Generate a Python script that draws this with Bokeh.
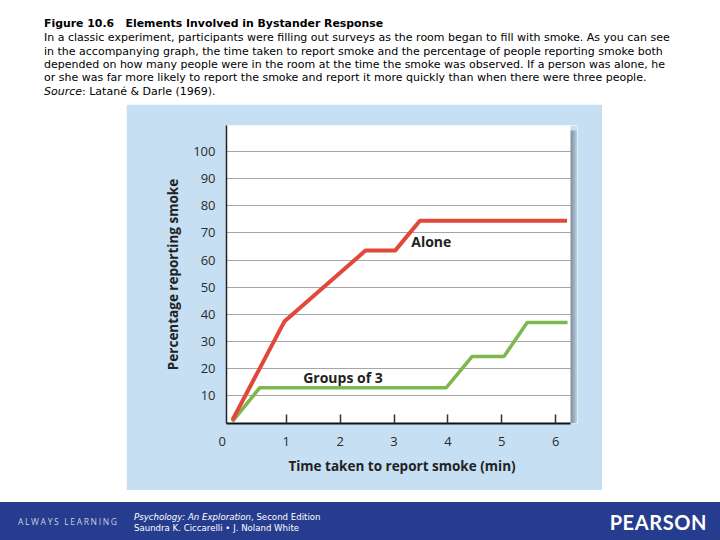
from bokeh.plotting import figure
from bokeh.models import Range1d, FixedTicker, Label, Div, Spacer
from bokeh.layouts import column, row
from bokeh.embed import file_html
from bokeh.resources import INLINE

# ---- data ----
alone_x = [0.0, 0.97, 2.47, 3.02, 3.48, 6.21]
alone_y = [1.0, 37.5, 63.5, 63.5, 74.5, 74.5]
group_x = [0.0, 0.51, 3.97, 4.45, 5.04, 5.47, 6.22]
group_y = [0.5, 13.0, 13.0, 24.5, 24.5, 37.0, 37.0]
x_ticks = [0, 1, 2, 3, 4, 5, 6]
y_ticks = [10, 20, 30, 40, 50, 60, 70, 80, 90, 100]

header_title = "Figure 10.6&nbsp;&nbsp; Elements Involved in Bystander Response"
header_lines = [
    "In a classic experiment, participants were filling out surveys as the room began to fill with smoke. As you can see",
    "in the accompanying graph, the time taken to report smoke and the percentage of people reporting smoke both",
    "depended on how many people were in the room at the time the smoke was observed. If a person was alone, he",
    "or she was far more likely to report the smoke and report it more quickly than when there were three people.",
]
source_line = "<i>Source</i>: Latan\u00e9 &amp; Darle (1969)."

RED = "#e2483a"
GREEN = "#7db84f"
PANEL = "#c6dff2"
FOOT = "#263c8e"
CHART_FONT = "Open Sans"

# layout constants (pixels -> data)
X_START, X_WHITE_END, X_END = -0.108, 6.275, 6.404
Y_START, Y_END = -0.2, 109.6
PX_X = (X_END - X_START) / 351.0
PX_Y = (Y_END - Y_START) / 298.0

p = figure(width=476, height=386,
           x_range=Range1d(X_START, X_END), y_range=Range1d(Y_START, Y_END),
           output_backend="svg", toolbar_location=None,
           min_border_left=100, min_border_right=25,
           min_border_top=21, min_border_bottom=67,
           border_fill_color=PANEL, background_fill_color="white",
           outline_line_color=None, margin=0)

# grid
p.xgrid.grid_line_color = None
p.ygrid.ticker = FixedTicker(ticks=y_ticks)
p.ygrid.grid_line_color = "#a6a6a6"
p.ygrid.grid_line_width = 1

# right-hand drop shadow of the white plotting area
p.quad(left=[X_WHITE_END], right=[X_END], bottom=[Y_START], top=[Y_END],
       fill_color=PANEL, line_color=None)
for i in range(1, 8):
    p.quad(left=[X_WHITE_END], right=[X_WHITE_END + i * PX_X],
           bottom=[Y_START], top=[Y_END - 5 * PX_Y],
           fill_color="#000000", fill_alpha=0.055, line_color=None)

# axes
xa = p.xaxis[0]
xa.ticker = FixedTicker(ticks=x_ticks, minor_ticks=x_ticks[1:])
xa.bounds = (X_START, X_WHITE_END)
xa.major_tick_line_color = None
xa.major_tick_in = 0
xa.major_tick_out = 0
xa.minor_tick_in = 9
xa.minor_tick_out = 0
xa.minor_tick_line_color = "#333333"
xa.minor_tick_line_width = 1.5
xa.axis_line_color = "#111111"
xa.axis_line_width = 2
xa.major_label_overrides = {0: "0" + "\u00a0" * 6}
xa.major_label_text_font = CHART_FONT
xa.major_label_text_font_size = "13px"
xa.major_label_text_color = "#2b2b2b"
xa.major_label_standoff = 8
xa.axis_label = "Time taken to report smoke (min)"
xa.axis_label_text_font = CHART_FONT
xa.axis_label_text_font_size = "13.5px"
xa.axis_label_text_font_style = "bold"
xa.axis_label_text_color = "#222222"
xa.axis_label_standoff = 4

ya = p.yaxis[0]
ya.ticker = FixedTicker(ticks=y_ticks)
ya.major_tick_line_color = None
ya.major_tick_in = 0
ya.major_tick_out = 0
ya.minor_tick_line_color = None
ya.axis_line_color = "#222222"
ya.axis_line_width = 1.5
ya.major_label_text_font = CHART_FONT
ya.major_label_text_font_size = "13px"
ya.major_label_text_color = "#2b2b2b"
ya.major_label_standoff = 11
ya.axis_label = "Percentage reporting smoke"
ya.axis_label_text_font = CHART_FONT
ya.axis_label_text_font_size = "13.5px"
ya.axis_label_text_font_style = "bold"
ya.axis_label_text_color = "#222222"
ya.axis_label_standoff = 8

# data lines
p.line(x=group_x, y=group_y, line_color=GREEN, line_width=3.5)
p.line(x=alone_x, y=alone_y, line_color=RED, line_width=4)

# series labels
p.add_layout(Label(x=3.32, y=66.8, text="Alone", text_font=CHART_FONT,
                   text_font_size="14px", text_font_style="bold",
                   text_color="#222222", text_baseline="middle", text_align="left"))
p.add_layout(Label(x=1.315, y=16.8, text="Groups of 3", text_font=CHART_FONT,
                   text_font_size="14px", text_font_style="bold",
                   text_color="#222222", text_baseline="middle", text_align="left"))

# header text
line_tops = [31, 44.5, 58, 71]
parts = ['<div style="position:relative;width:720px;height:104px;overflow:hidden;'
         'font-family:\'DejaVu Sans\';font-size:11px;color:#000;line-height:13px;">']
parts.append('<div style="position:absolute;left:44px;top:17px;white-space:nowrap;'
             'font-weight:bold;font-size:10.9px;">%s</div>' % header_title)
for t, line in zip(line_tops, header_lines):
    parts.append('<div style="position:absolute;left:44px;top:%spx;white-space:nowrap;">%s</div>'
                 % (t, line))
parts.append('<div style="position:absolute;left:44px;top:84.5px;white-space:nowrap;">%s</div>'
             % source_line)
parts.append('</div>')
header = Div(text="".join(parts), width=720, height=104, margin=0)

footer_html = (
    '<div style="position:relative;width:720px;height:38px;overflow:hidden;background:%s;">' % FOOT
    + '<div style="position:absolute;left:18px;top:14px;line-height:12px;white-space:nowrap;'
      'font-family:\'Open Sans\';font-size:8.5px;letter-spacing:1.65px;color:#c9cfe3;">ALWAYS LEARNING</div>'
    + '<div style="position:absolute;left:134px;top:9.5px;line-height:11px;white-space:nowrap;'
      'font-family:\'DejaVu Sans\';font-size:8.6px;color:#ffffff;">'
      '<i>Psychology: An Exploration</i>, Second Edition</div>'
    + '<div style="position:absolute;left:134px;top:20.5px;line-height:11px;white-space:nowrap;'
      'font-family:\'DejaVu Sans\';font-size:8.6px;color:#ffffff;">'
      'Saundra K. Ciccarelli \u2022 J. Noland White</div>'
    + '<div style="position:absolute;right:13px;top:8px;line-height:24px;white-space:nowrap;'
      'font-family:Lato;font-weight:bold;font-size:20px;letter-spacing:0.6px;color:#ffffff;">PEARSON</div>'
    + '</div>'
)
footer = Div(text=footer_html, width=720, height=38, margin=0)

layout = column(
    header,
    row(Spacer(width=126, height=386, margin=0), p, Spacer(width=118, height=386, margin=0), margin=0),
    Spacer(width=720, height=12, margin=0),
    footer,
    margin=0,
)

open("out.html", "w").write(file_html(layout, INLINE))
